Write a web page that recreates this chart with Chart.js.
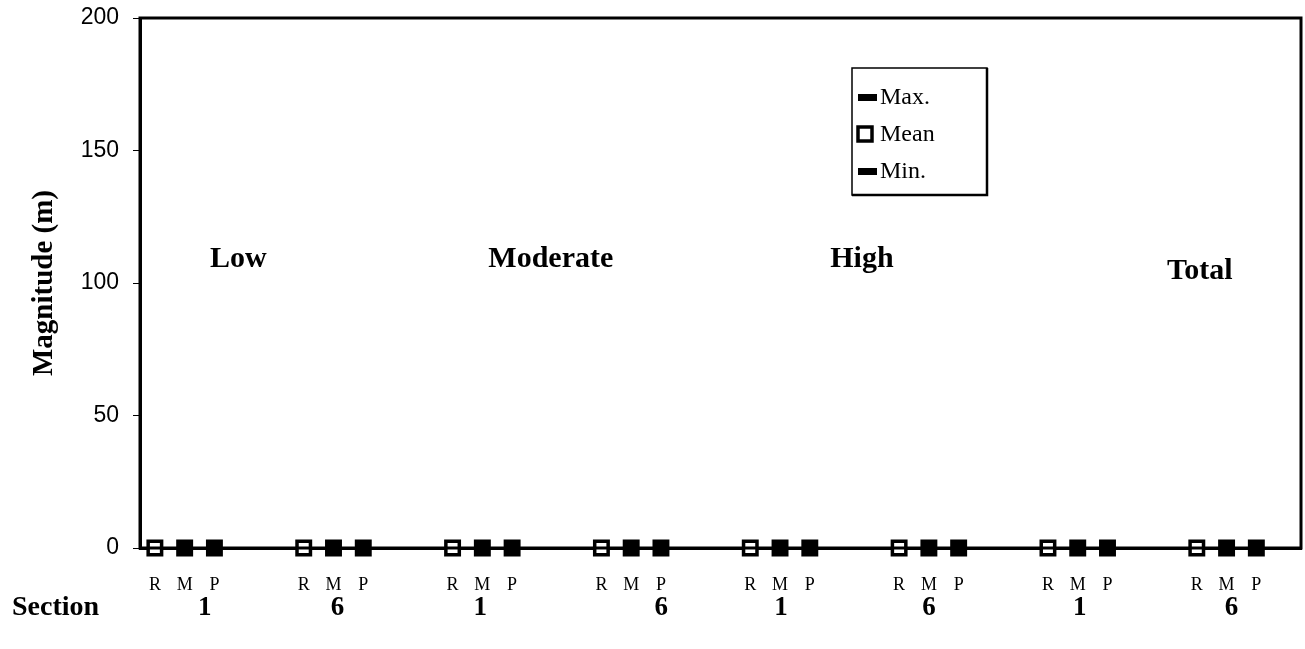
<!DOCTYPE html>
<html>
<head>
<meta charset="utf-8">
<script src="https://cdn.jsdelivr.net/npm/chart.js@4/dist/chart.umd.min.js"></script>
<style>
  html, body { margin: 0; padding: 0; background: #fff; overflow: hidden; }
  #wrap { width: 1305px; height: 649px; position: relative; }
  #magChart { display: block; }
</style>
</head>
<body>
<div id="wrap"><canvas id="magChart"></canvas></div>
<script>
// data
const methods = ['R', 'M', 'P'];
const sections = ['1', '6', '1', '6', '1', '6', '1', '6'];
const classes = ['Low', 'Moderate', 'High', 'Total'];
const yTicks = [0, 50, 100, 150, 200];
// one value per section x method (R, M, P)
const maxValues  = [null, 0, 0,  null, 0, 0,  null, 0, 0,  null, 0, 0,  null, 0, 0,  null, 0, 0,  null, 0, 0,  null, 0, 0];
const meanValues = [0, 0, 0,  0, 0, 0,  0, 0, 0,  0, 0, 0,  0, 0, 0,  0, 0, 0,  0, 0, 0,  0, 0, 0];
const minValues  = [null, 0, 0,  null, 0, 0,  null, 0, 0,  null, 0, 0,  null, 0, 0,  null, 0, 0,  null, 0, 0,  null, 0, 0];

// layout (slot positions for annotation text)
const classPos = [2.8, 13.3, 23.75, 35.1];
const classY = [108.8, 108.8, 108.8, 104.3];
const sectionNudge = [20, 4, -2, 30, 1, 0, 2, 5];

const SERIF = '"Liberation Serif", "Times New Roman", serif';
const SANS = '"Liberation Sans", Arial, sans-serif';

// 5 slots per section: R M P + two gaps, last gap dropped
const slotLabels = [];
sections.forEach((s, g) => {
  methods.forEach(m => slotLabels.push(m));
  if (g < sections.length - 1) { slotLabels.push(''); slotLabels.push(''); }
});
slotLabels.push('');

function toSlots(vals) {
  const out = new Array(slotLabels.length).fill(null);
  vals.forEach((v, i) => {
    const g = Math.floor(i / 3), k = i % 3;
    out[g * 5 + k] = v;
  });
  return out;
}

const framePlugin = {
  id: 'frame',
  afterDatasetsDraw(chart) {
    const { ctx, chartArea: a } = chart;
    ctx.save();
    ctx.strokeStyle = '#000';
    ctx.lineWidth = 3;
    ctx.strokeRect(a.left, a.top, a.right - a.left, a.bottom - a.top);
    ctx.restore();
  }
};

const textPlugin = {
  id: 'texts',
  afterDraw(chart) {
    const { ctx } = chart;
    const xs = chart.scales.x, ys = chart.scales.y;
    ctx.save();
    ctx.fillStyle = '#000';
    ctx.textBaseline = 'middle';
    // class headings
    ctx.font = 'bold 30px ' + SERIF;
    ctx.textAlign = 'center';
    classes.forEach((c, i) => {
      ctx.fillText(c, xs.getPixelForValue(classPos[i]), ys.getPixelForValue(classY[i]));
    });
    // section row
    ctx.font = 'bold 28px ' + SERIF;
    ctx.textAlign = 'left';
    ctx.fillText('Section', 12, 608);
    ctx.font = 'bold 27px ' + SERIF;
    ctx.textAlign = 'center';
    sections.forEach((s, g) => {
      ctx.fillText(s, xs.getPixelForValue(g * 5 + 1) + sectionNudge[g], 608);
    });
    // legend box
    const bx = 852, by = 68, bw = 135, bh = 127;
    ctx.fillStyle = '#fff';
    ctx.fillRect(bx, by, bw, bh);
    ctx.strokeStyle = '#000';
    ctx.lineWidth = 1.5;
    ctx.strokeRect(bx, by, bw, bh);
    ctx.lineWidth = 2.5;
    ctx.beginPath();
    ctx.moveTo(bx + bw, by);
    ctx.lineTo(bx + bw, by + bh);
    ctx.lineTo(bx, by + bh);
    ctx.stroke();
    const items = chart.data.datasets;
    ctx.font = '24px ' + SERIF;
    ctx.textAlign = 'left';
    items.forEach((ds, i) => {
      const y = by + 29 + i * 37;
      if (ds.pointBackgroundColor === '#fff') {
        ctx.fillStyle = '#fff';
        ctx.fillRect(858, y - 7, 14, 14);
        ctx.lineWidth = 3.5;
        ctx.strokeRect(858, y - 7, 14, 14);
      } else {
        ctx.fillStyle = '#000';
        ctx.fillRect(858, y - 3, 19, 7);
      }
      ctx.fillStyle = '#000';
      ctx.fillText(ds.label, 880, y + 1);
    });
    ctx.restore();
  }
};

new Chart(document.getElementById('magChart'), {
  type: 'line',
  data: {
    labels: slotLabels,
    datasets: [
      { label: 'Max.', data: toSlots(maxValues), showLine: false, pointStyle: 'rect',
        pointRadius: 10.5, pointBackgroundColor: '#000', pointBorderColor: '#000', pointBorderWidth: 0, order: 1 },
      { label: 'Mean', data: toSlots(meanValues), showLine: false, pointStyle: 'rect',
        pointRadius: 9.5, pointBackgroundColor: '#fff', pointBorderColor: '#000', pointBorderWidth: 3.5, order: 3 },
      { label: 'Min.', data: toSlots(minValues), showLine: false, pointStyle: 'rect',
        pointRadius: 10.5, pointBackgroundColor: '#000', pointBorderColor: '#000', pointBorderWidth: 0, order: 2 }
    ]
  },
  options: {
    responsive: true,
    maintainAspectRatio: false,
    animation: false,
    clip: false,
    layout: { autoPadding: false, padding: { top: 18, right: 4, left: 0, bottom: 0 } },
    plugins: { legend: { display: false }, tooltip: { enabled: false } },
    scales: {
      x: {
        type: 'category',
        offset: true,
        grid: { display: false, drawTicks: false },
        border: { display: true, color: '#000', width: 3 },
        ticks: { autoSkip: false, maxRotation: 0, color: '#000', padding: 26,
          font: { family: SERIF, size: 18 } },
        afterFit(scale) {
          scale.height = 101;
          scale.paddingLeft = 0;
          scale.paddingRight = 0;
        }
      },
      y: {
        min: 0, max: 200,
        afterBuildTicks(scale) { scale.ticks = yTicks.map(v => ({ value: v })); },
        grid: { drawOnChartArea: false, drawTicks: true, tickLength: 7, color: '#000', lineWidth: 1 },
        border: { display: true, color: '#000', width: 3 },
        ticks: { color: '#000', padding: 14, font: { family: SANS, size: 23 } },
        title: { display: true, text: 'Magnitude (m)', color: '#000', padding: { top: 27, bottom: 0 },
          font: { family: SERIF, size: 29, weight: 'bold' } },
        afterFit(scale) {
          scale.width = 140;
          scale.paddingTop = 0;
          scale.paddingBottom = 0;
        }
      }
    }
  },
  plugins: [framePlugin, textPlugin]
});
</script>
</body>
</html>
